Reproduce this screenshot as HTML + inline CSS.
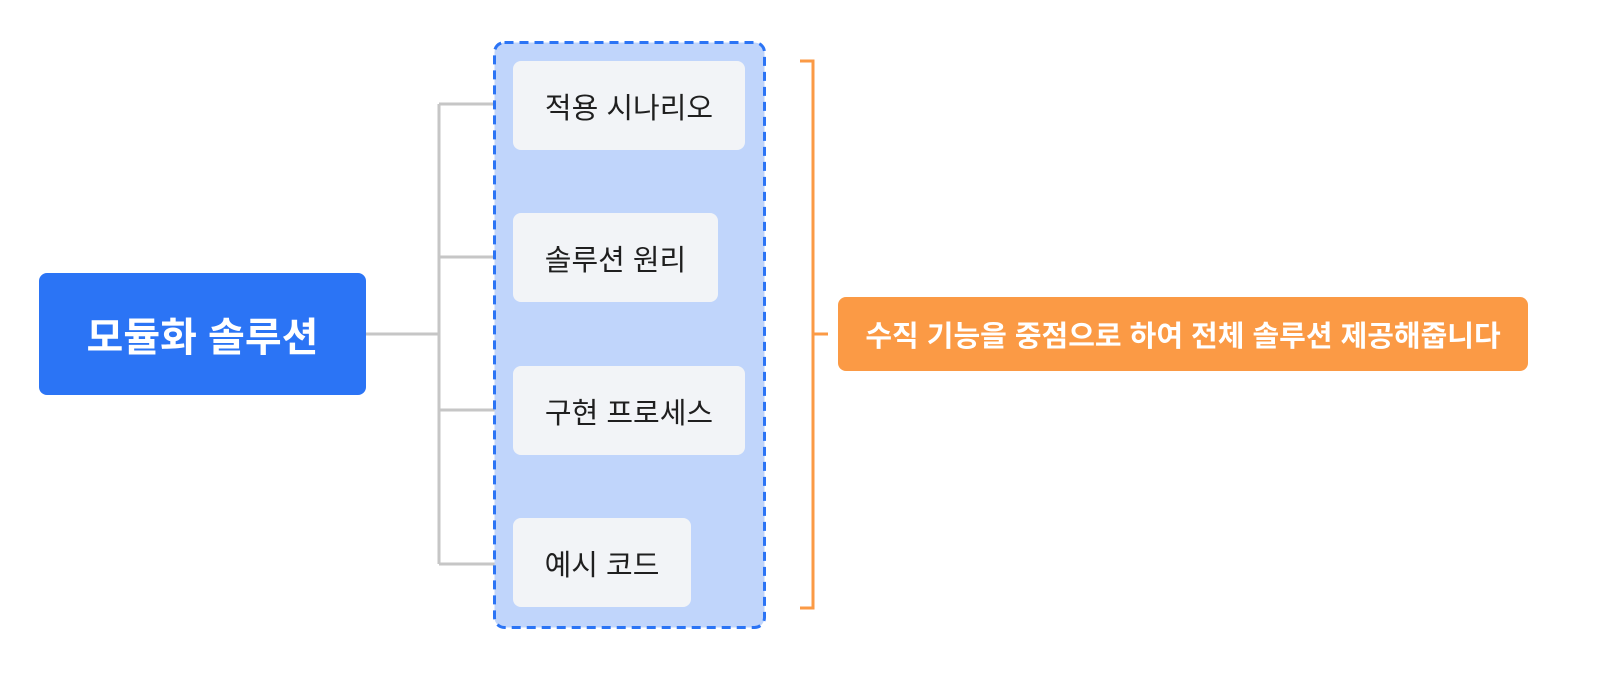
<!DOCTYPE html>
<html><head><meta charset="utf-8"><style>
body{margin:0;width:1610px;height:687px;background:#fff;position:relative;overflow:hidden;font-family:"Liberation Sans","Noto Sans CJK KR",sans-serif}
.a{position:absolute;box-sizing:border-box}
.n{background:#f2f4f7;border-radius:8px;display:flex;align-items:center;justify-content:center;font-size:29px;color:#1f1f1f}
</style></head><body>
<svg class="a" style="left:0;top:0" width="1610" height="687">
<g stroke="#c6c6c6" stroke-width="3" fill="none">
<path d="M366 334H439M439 104V564M439 104H513M439 257H513M439 410H513M439 564H513"/>
</g>
<rect x="494.5" y="42.5" width="270" height="585" rx="10" fill="#c0d5fb" stroke="#2b74f5" stroke-width="3" stroke-dasharray="9 6"/>
<g stroke="#fb9a45" stroke-width="3" fill="none">
<path d="M800 61H813V608H800M813 334H828"/>
</g>
</svg>
<div class="a" style="left:39px;top:273px;width:327px;height:122px;background:#2b74f5;border-radius:8px;color:#fff;font-size:40px;font-weight:bold;display:flex;align-items:center;justify-content:center">모듈화 솔루션</div>
<div class="a n" style="left:513px;top:61px;width:232px;height:89px">적용 시나리오</div>
<div class="a n" style="left:513px;top:213px;width:205px;height:89px">솔루션 원리</div>
<div class="a n" style="left:513px;top:366px;width:232px;height:89px">구현 프로세스</div>
<div class="a n" style="left:513px;top:518px;width:178px;height:89px">예시 코드</div>
<div class="a" style="left:838px;top:297px;width:690px;height:74px;background:#fb9a45;border-radius:8px;color:#fff;font-size:29px;font-weight:bold;display:flex;align-items:center;justify-content:center;white-space:nowrap">수직 기능을 중점으로 하여 전체 솔루션 제공해줍니다</div>
</body></html>
